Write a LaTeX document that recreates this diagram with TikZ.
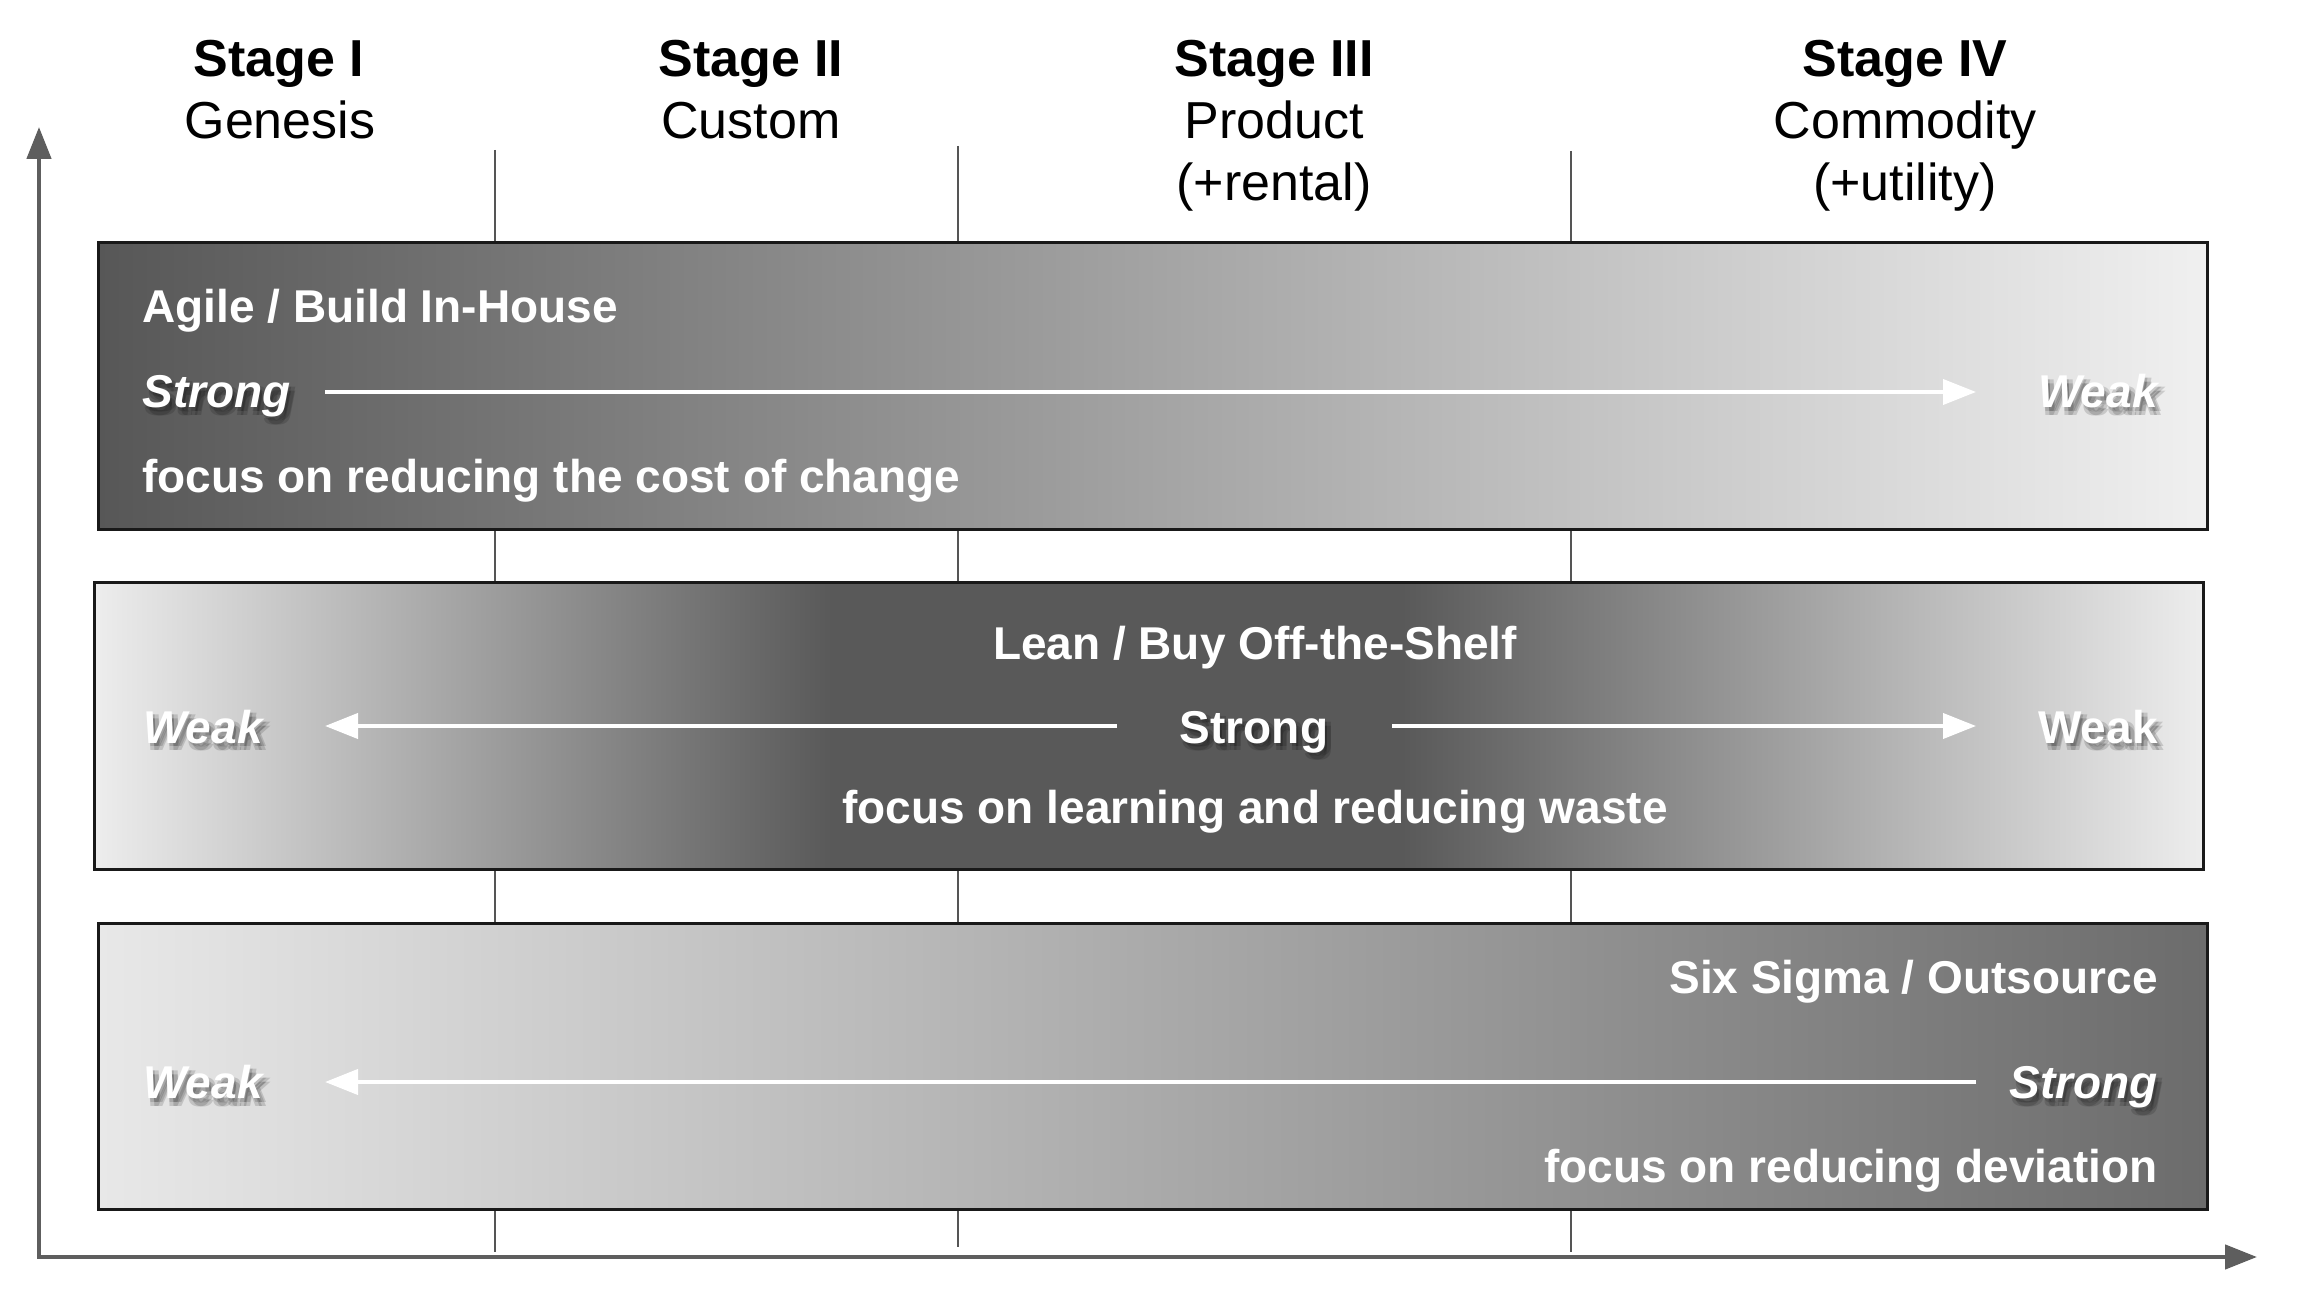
\documentclass[tikz,border=0pt]{standalone}
\usepackage{fontspec}
\setmainfont{Liberation Sans}
\usetikzlibrary{arrows.meta}

\definecolor{axisgray}{HTML}{5E5E5E}
\definecolor{divgray}{HTML}{555555}
\definecolor{agiledark}{HTML}{575757}
\definecolor{agilelight}{HTML}{F0F0F0}
\definecolor{leanlight}{HTML}{EDEDED}
\definecolor{leandark}{HTML}{595959}
\definecolor{sigmalight}{HTML}{E8E8E8}
\definecolor{sigmadark}{HTML}{6C6C6C}

% light at both ends, dark plateau in the middle
\pgfdeclarehorizontalshading{leanshade}{100bp}{%
  color(0bp)=(leanlight); color(25bp)=(leanlight);
  color(42.5bp)=(leandark); color(56bp)=(leandark);
  color(75bp)=(leanlight); color(100bp)=(leanlight)}

% white label with a soft dark drop shadow
% #1 style, #2 anchor, #3 name, #4 position, #5 text
\newcommand\shadowlabel[5]{%
  \foreach \dx [count=\i] in {-1,1}{%
    \foreach \dy [count=\j] in {-1,1}{%
      \node[#1, anchor=#2, text=black, text opacity=0.14,
            xshift={(2+\dx)*1pt}, yshift={(-3+\dy)*1pt}]
            (#3sh\i\j) at (#4) {#5};
    }%
  }%
  \node[#1, anchor=#2] (#3) at (#4) {#5};%
}

\begin{document}
\begin{tikzpicture}[x=0.5pt, y=-0.5pt,
  hdrbold/.style={font=\fontsize{26}{31}\selectfont\bfseries, anchor=base, inner sep=0pt},
  hdrplain/.style={font=\fontsize{26}{31}\selectfont, anchor=base, inner sep=0pt},
  lbl/.style={font=\fontsize{23}{28}\selectfont\bfseries, text=white, inner sep=0pt},
  lblit/.style={font=\fontsize{23}{28}\selectfont\bfseries\itshape, text=white, inner sep=0pt},
  band/.style={draw=black!90, line width=1.5pt},
  divider/.style={divgray, line width=1pt},
  flowarrow/.style={white, line width=2pt, -{Triangle[length=16.5pt,width=12.5pt]}},
  axisline/.style={axisgray, line width=2.25pt, line join=miter,
    {Triangle[length=16pt,width=12pt]}-{Triangle[length=16pt,width=12pt]}}
]
\useasboundingbox (0,0) rectangle (2298,1304);
\fill[white] (0,0) rectangle (2298,1304);

% stage dividers
\draw[divider] (495,150) -- (495,1252);
\draw[divider] (958,146) -- (958,1247);
\draw[divider] (1571,151) -- (1571,1252);

% axes
\coordinate (ytip) at (39,127);
\coordinate (origin) at (39,1257);
\coordinate (xtip) at (2257,1257);
\draw[axisline] (ytip) -- (origin) -- (xtip);

% stage headings
\node[hdrbold] (st1) at (279,77) {Stage I};
\node[hdrplain] (st1b) at (280,139) {Genesis};
\node[hdrbold] (st2) at (751,77) {Stage II};
\node[hdrplain] (st2b) at (751,139) {Custom};
\node[hdrbold] (st3) at (1274,77) {Stage III};
\node[hdrplain] (st3b) at (1274,139) {Product};
\node[hdrplain] (st3c) at (1274,201) {(+rental)};
\node[hdrbold] (st4) at (1905,77) {Stage IV};
\node[hdrplain] (st4b) at (1905,139) {Commodity};
\node[hdrplain] (st4c) at (1905,201) {(+utility)};

% bands
\path[band, left color=agiledark, right color=agilelight] (98,243) rectangle (2207,530);
\path[band, shading=leanshade] (94,583) rectangle (2203,869);
\path[band, left color=sigmalight, right color=sigmadark] (98,923) rectangle (2207,1209);

% Agile band
\node[lbl, anchor=base west] (agile) at (142,323) {Agile / Build In-House};
\shadowlabel{lblit}{base west}{agilestrong}{142,408}{Strong}
\shadowlabel{lblit}{base east}{agileweak}{2158,408}{Weak}
\node[lbl, anchor=base west] (agilefocus) at (142,493) {focus on reducing the cost of change};
\coordinate (a1s) at (325,392);
\coordinate (a1e) at (1976,392);
\draw[flowarrow] (a1s) -- (a1e);

% Lean band
\node[lbl, anchor=base] (lean) at (1255,660) {Lean / Buy Off-the-Shelf};
\shadowlabel{lblit}{base west}{leanweakl}{143,743}{Weak}
\shadowlabel{lbl}{base}{leanstrong}{1254,743}{Strong}
\shadowlabel{lbl}{base east}{leanweakr}{2158,743}{Weak}
\node[lbl, anchor=base] (leanfocus) at (1255,823) {focus on learning and reducing waste};
\coordinate (a2ls) at (1117,726);
\coordinate (a2le) at (325,726);
\coordinate (a2rs) at (1392,726);
\coordinate (a2re) at (1976,726);
\draw[flowarrow] (a2ls) -- (a2le);
\draw[flowarrow] (a2rs) -- (a2re);

% Six Sigma band
\node[lbl, anchor=base east] (sigma) at (2158,993) {Six Sigma / Outsource};
\shadowlabel{lblit}{base west}{sigmaweak}{143,1098}{Weak}
\shadowlabel{lblit}{base east}{sigmastrong}{2158,1098}{Strong}
\node[lbl, anchor=base east] (sigmafocus) at (2158,1182) {focus on reducing deviation};
\coordinate (a3s) at (1976,1082);
\coordinate (a3e) at (325,1082);
\draw[flowarrow] (a3s) -- (a3e);
\end{tikzpicture}
\end{document}
